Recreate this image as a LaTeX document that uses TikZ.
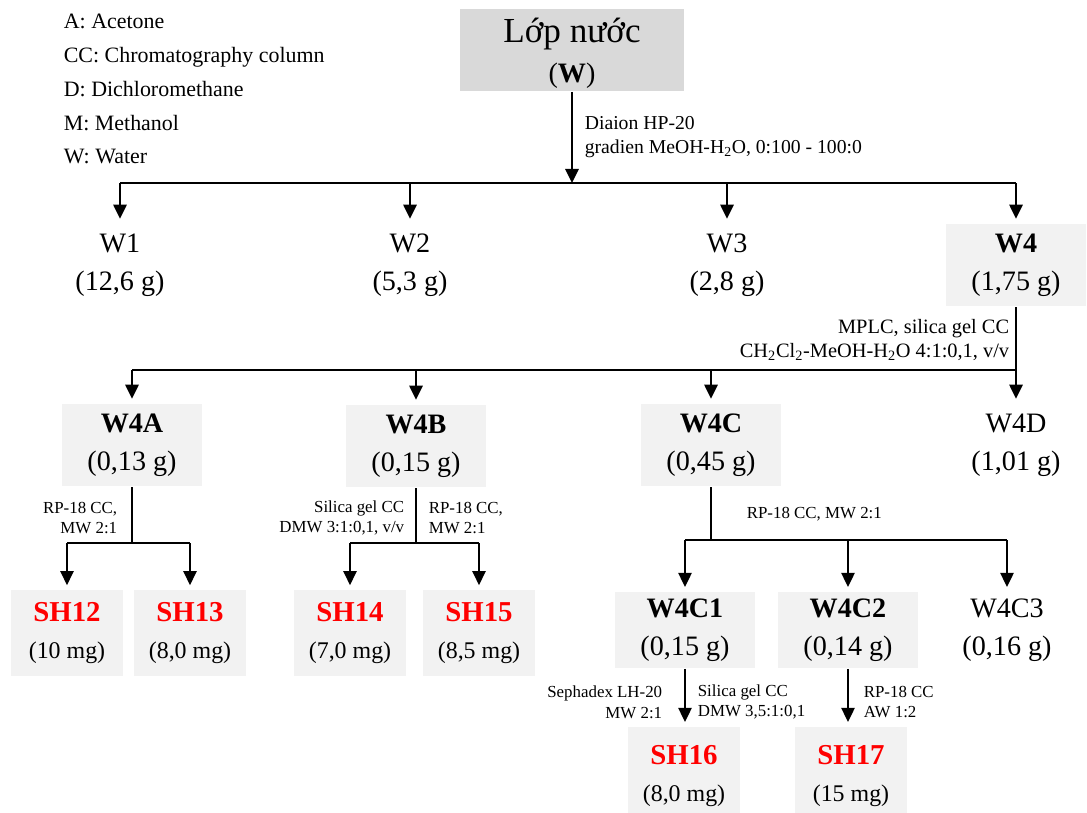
\documentclass[tikz,border=0pt]{standalone}
\usepackage{fontspec}
\setmainfont{Liberation Serif}
\usepackage{xcolor}
\usetikzlibrary{arrows.meta}

\definecolor{boxgray}{HTML}{F2F2F2}
\definecolor{topgray}{HTML}{D9D9D9}

\tikzset{
    frac/.style={align=center, inner sep=0pt, minimum width=3.52cm, minimum height=2.06cm,
        font=\fontsize{20}{27}\selectfont},
    fracbox/.style={frac, fill=boxgray},
    cpdbox/.style={align=center, inner sep=0pt, fill=boxgray, minimum width=2.78cm,
        minimum height=2.14cm, font=\fontsize{20.5}{26}\selectfont},
    cond/.style={inner sep=0pt, font=\fontsize{14}{17.5}\selectfont},
    smallcond/.style={inner sep=0pt, font=\fontsize{12}{14.6}\selectfont},
    legend/.style={anchor=base west, inner sep=0pt, font=\fontsize{15.6}{18}\selectfont},
    arr/.style={-{Triangle[width=9.5pt,length=10pt]}, shorten >=3pt},
    every path/.style={line width=1.2pt}
}

\newcommand{\cpd}[2]{\textcolor{red}{\bfseries #1}\\{\fontsize{17}{20}\selectfont #2}}

\begin{document}
\begin{tikzpicture}[x=0.025cm, y=-0.025cm]
    \useasboundingbox (0,0) rectangle (1087,812);

    % legend
    \node[legend] (legA) at (63,28) {A: Acetone};
    \node[legend] (legC) at (63,62) {CC: Chromatography column};
    \node[legend] (legD) at (63,96) {D: Dichloromethane};
    \node[legend] (legM) at (63,130) {M: Methanol};
    \node[legend] (legW) at (63,163) {W: Water};

    % fractions
    \node[align=center, inner sep=0pt, fill=topgray, minimum width=5.58cm, minimum height=2.05cm,
        font=\fontsize{20}{28}\selectfont] (W) at (572,50)
        {\\[-6pt]{\fontsize{25}{30}\selectfont Lớp nước}\\(\textbf{W})};
    \node[frac] (W1) at (120,265) {W1\\(12,6 g)};
    \node[frac] (W2) at (410,265) {W2\\(5,3 g)};
    \node[frac] (W3) at (727,265) {W3\\(2,8 g)};
    \node[fracbox] (W4) at (1016,265) {\textbf{W4}\\(1,75 g)};

    \node[fracbox] (W4A) at (132,445) {\textbf{W4A}\\(0,13 g)};
    \node[fracbox] (W4B) at (416,446) {\textbf{W4B}\\(0,15 g)};
    \node[fracbox] (W4C) at (711,445) {\textbf{W4C}\\(0,45 g)};
    \node[frac] (W4D) at (1016,445) {W4D\\(1,01 g)};

    \node[cpdbox] (SH12) at (67,633) {\cpd{SH12}{(10 mg)}};
    \node[cpdbox] (SH13) at (190,633) {\cpd{SH13}{(8,0 mg)}};
    \node[cpdbox] (SH14) at (350,633) {\cpd{SH14}{(7,0 mg)}};
    \node[cpdbox] (SH15) at (479,633) {\cpd{SH15}{(8,5 mg)}};

    \node[fracbox, minimum height=1.9cm] (W4C1) at (685,630) {\textbf{W4C1}\\(0,15 g)};
    \node[fracbox, minimum height=1.9cm] (W4C2) at (848,630) {\textbf{W4C2}\\(0,14 g)};
    \node[frac, minimum height=1.9cm] (W4C3) at (1007,630) {W4C3\\(0,16 g)};

    \node[cpdbox, minimum height=2.45cm] (SH16) at (684,776) {\cpd{SH16}{(8,0 mg)}};
    \node[cpdbox, minimum height=2.45cm] (SH17) at (851,776) {\cpd{SH17}{(15 mg)}};

    % first split
    \coordinate (b0) at (572,183);
    \draw[arr, shorten >=0pt] (W) -- (b0);
    \draw (W1 |- b0) -- (W4 |- b0);
    \foreach \n in {W1,W2,W3,W4}
        \draw[arr] (\n |- b0) -- (\n.north);
    \node[cond, anchor=west, align=left] (cW) at (584,137)
        {Diaion HP-20\\gradien MeOH-H\textsubscript{2}O, 0:100 - 100:0};

    % W4
    \coordinate (b1) at (1016,370);
    \draw (W4) -- (b1);
    \draw (W4A |- b1) -- (b1);
    \foreach \n in {W4A,W4B,W4C,W4D}
        \draw[arr] (\n |- b1) -- (\n.north);
    \node[cond, anchor=east, align=right, font=\fontsize{14.5}{17.5}\selectfont] (cW4) at (1010,340)
        {MPLC, silica gel CC\\CH\textsubscript{2}Cl\textsubscript{2}-MeOH-H\textsubscript{2}O 4:1:0,1, v/v};

    % W4A
    \coordinate (b2) at (132,543);
    \draw (W4A) -- (b2);
    \draw (SH12 |- b2) -- (SH13 |- b2);
    \draw[arr] (SH12 |- b2) -- (SH12.north);
    \draw[arr] (SH13 |- b2) -- (SH13.north);
    \node[smallcond, anchor=east, align=right] (cW4A) at (118,518) {RP-18 CC,\\MW 2:1};

    % W4B
    \coordinate (b3) at (416,543);
    \draw (W4B) -- (b3);
    \draw (SH14 |- b3) -- (SH15 |- b3);
    \draw[arr] (SH14 |- b3) -- (SH14.north);
    \draw[arr] (SH15 |- b3) -- (SH15.north);
    \node[smallcond, anchor=east, align=right] (cW4Bl) at (405,518) {Silica gel CC\\DMW 3:1:0,1, v/v};
    \node[smallcond, anchor=west, align=left] (cW4Br) at (428,518) {RP-18 CC,\\MW 2:1};

    % W4C
    \coordinate (b4) at (711,540);
    \draw (W4C) -- (b4);
    \draw (W4C1 |- b4) -- (W4C3 |- b4);
    \foreach \n in {W4C1,W4C2,W4C3}
        \draw[arr] (\n |- b4) -- (\n.north);
    \node[smallcond, anchor=west] (cW4C) at (746,514) {RP-18 CC, MW 2:1};

    % W4C1, W4C2
    \draw[arr] (W4C1) -- (W4C1 |- SH16.north);
    \draw[arr] (W4C2) -- (W4C2 |- SH17.north);
    \node[smallcond, anchor=east, align=right] (cW4C1l) at (663,702) {Sephadex LH-20\\MW 2:1};
    \node[smallcond, anchor=west, align=left] (cW4C1r) at (697,702) {Silica gel CC\\DMW 3,5:1:0,1};
    \node[smallcond, anchor=west, align=left] (cW4C2) at (863,702) {RP-18 CC\\AW 1:2};
\end{tikzpicture}
\end{document}
